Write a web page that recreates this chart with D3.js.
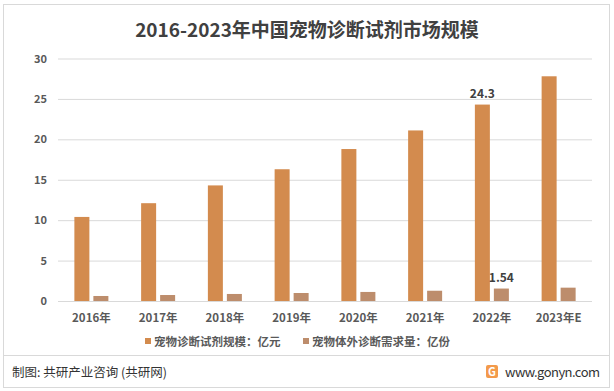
<!DOCTYPE html>
<html><head><meta charset="utf-8">
<script src="https://cdn.jsdelivr.net/npm/d3@7/dist/d3.min.js"></script>
<style>body{margin:0;background:#fff}svg{display:block}text{font-family:"Noto Sans CJK SC","Microsoft YaHei",sans-serif}</style>
</head><body>
<script>
const categories = ["2016年","2017年","2018年","2019年","2020年","2021年","2022年","2023年E"];
const seriesNames = ["宠物诊断试剂规模：亿元","宠物体外诊断需求量：亿份"];
const marketSize = [10.4, 12.1, 14.3, 16.3, 18.8, 21.1, 24.3, 27.8];
const demand = [0.62, 0.74, 0.87, 0.99, 1.12, 1.27, 1.54, 1.65];
const yTicks = [0, 5, 10, 15, 20, 25, 30];
const labelled = {"2022年": [true, true]};
const colors = ["#D38B4E", "#BD8D6C"];

const W = 614, H = 391;
const svg = d3.select("body").append("svg").attr("width", W).attr("height", H);

// frames
svg.append("rect").attr("x",3.5).attr("y",4.5).attr("width",606).attr("height",383).attr("fill","none").attr("stroke","#D9D9D9");
svg.append("line").attr("x1",3.5).attr("x2",609.5).attr("y1",355.5).attr("y2",355.5).attr("stroke","#D9D9D9");

svg.append("text").attr("x",307).attr("y",37).attr("text-anchor","middle")
  .attr("font-size",19).attr("font-weight","bold").attr("fill","#404040")
  .text("2016-2023年中国宠物诊断试剂市场规模");

const x = d3.scaleBand().domain(categories).range([58, 592]);
const y = d3.scaleLinear().domain([0, 30]).range([301, 58.5]);

const g = svg.append("g");
const yAxis = g.append("g").attr("transform","translate(58,0)")
  .call(d3.axisLeft(y).tickValues(yTicks).tickSize(-534).tickPadding(11));
yAxis.select(".domain").remove();
yAxis.selectAll("line").attr("stroke","#D9D9D9");
yAxis.selectAll("text").attr("font-size",11).attr("fill","#595959").attr("font-family","'Liberation Sans',Arial,sans-serif").attr("font-weight","bold");

const xAxis = g.append("g").attr("transform","translate(0,301)")
  .call(d3.axisBottom(x).tickSize(0).tickPadding(13));
xAxis.select(".domain").remove();
xAxis.selectAll("text").attr("font-size",11.5).attr("font-weight","bold").attr("fill","#595959");

const bw = 15, gap = 4;
const series = [marketSize, demand];
series.forEach((vals, si) => {
  const off = si === 0 ? -(bw + gap/2) : gap/2;
  g.selectAll(".b"+si).data(categories).enter().append("rect")
    .attr("x", d => x(d) + x.bandwidth()/2 + off)
    .attr("y", (d,i) => y(vals[i]))
    .attr("width", bw)
    .attr("height", (d,i) => y(0) - y(vals[i]))
    .attr("fill", colors[si]);
  g.selectAll(".l"+si).data(categories.filter(c => labelled[c] && labelled[c][si])).enter().append("text")
    .attr("x", d => x(d) + x.bandwidth()/2 + off + bw/2)
    .attr("y", d => y(vals[categories.indexOf(d)]) - 7)
    .attr("text-anchor","middle").attr("font-size",12).attr("font-weight","bold").attr("fill","#404040")
    .attr("font-family","'Liberation Sans',Arial,sans-serif")
    .text(d => vals[categories.indexOf(d)]);
});

// legend
const legX = [145, 303];
seriesNames.forEach((n, i) => {
  svg.append("rect").attr("x",legX[i]).attr("y",338).attr("width",6).attr("height",6).attr("fill",colors[i]);
  svg.append("text").attr("x",legX[i]+9).attr("y",345.5).attr("font-size",11.5).attr("font-weight","bold").attr("fill","#595959").text(n);
});

// footer
svg.append("text").attr("x",12).attr("y",377).attr("font-size",12.5).attr("fill","#333").text("制图: 共研产业咨询 (共研网)");
const lg = svg.append("g").attr("transform","translate(486,365)");
lg.append("rect").attr("width",12).attr("height",13).attr("rx",2).attr("fill","#F39A4B");
lg.append("text").attr("x",6).attr("y",11).attr("text-anchor","middle").attr("font-size",11).attr("font-weight","bold").attr("fill","#fff").attr("font-family","'Liberation Sans',Arial,sans-serif").text("G");
svg.append("text").attr("x",505).attr("y",377).attr("font-size",13).attr("fill","#333").attr("font-family","'Liberation Sans',Arial,sans-serif").attr("textLength",95).text("www.gonyn.com");
</script>
</body></html>
